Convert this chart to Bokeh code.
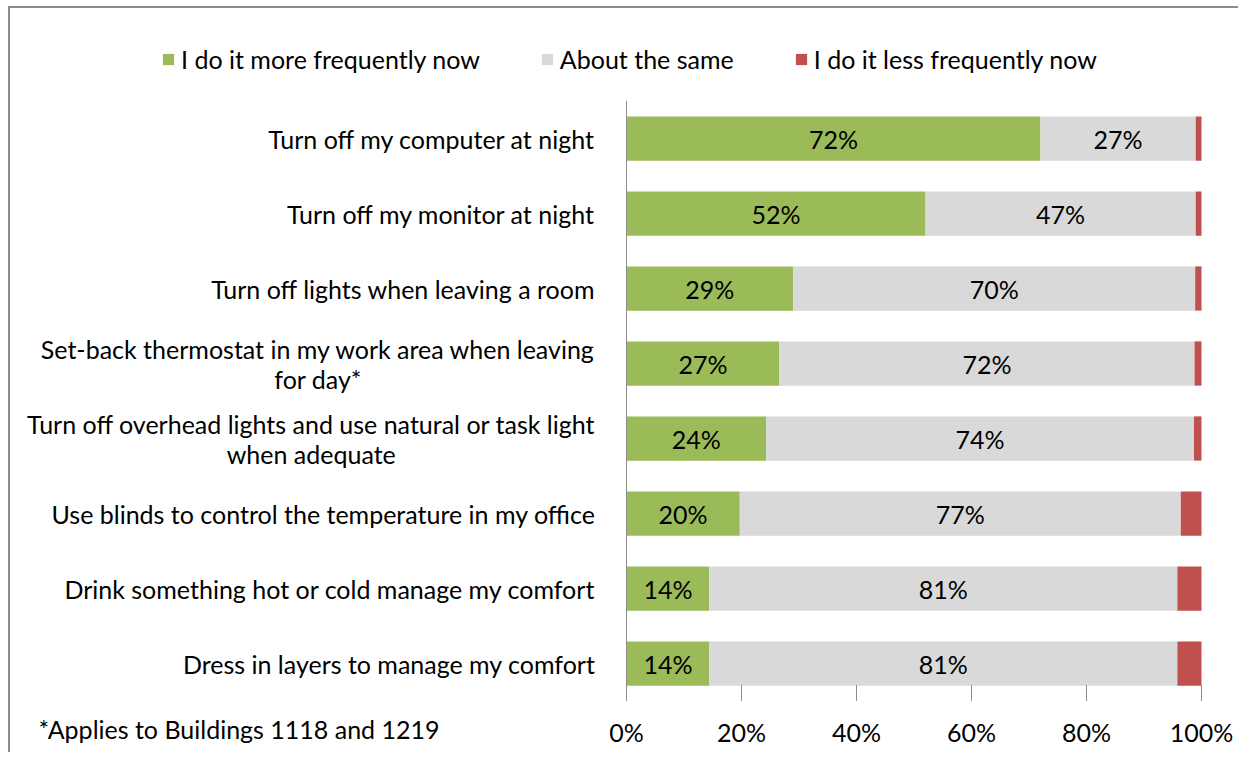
from bokeh.plotting import figure
from bokeh.models import ColumnDataSource, Range1d, Legend, LegendItem, Label
from bokeh.embed import file_html
from bokeh.resources import INLINE
from bokeh.core.properties import value

# ---- data ----
categories = [
    "Turn off my computer at night",
    "Turn off my monitor at night",
    "Turn off lights when leaving a room",
    "Set-back thermostat in my work area when leaving\nfor day*",
    "Turn off overhead lights and use natural or task light\nwhen adequate",
    "Use blinds to control the temperature in my office",
    "Drink something hot or cold manage my comfort",
    "Dress in layers to manage my comfort",
]
more = [72.0, 52.0, 29.0, 26.6, 24.3, 19.7, 14.4, 14.4]
same = [27.0, 47.0, 69.9, 72.2, 74.4, 76.7, 81.4, 81.4]
less = [1.0, 1.0, 1.1, 1.2, 1.3, 3.6, 4.2, 4.2]
series_names = ["I do it more frequently now", "About the same", "I do it less frequently now"]
x_ticks = [0, 20, 40, 60, 80, 100]
x_tick_labels = ["0%", "20%", "40%", "60%", "80%", "100%"]
footnote = "*Applies to Buildings 1118 and 1219"

# ---- layout / style ----
W, H = 1230, 746
ZERO_PX = 616          # canvas px of the 0% line
PX_PER_PCT = 5.75
FIRST_ROW_PX = 130     # canvas px of first row centre
ROW_PX = 75
FONT = "Lato"
FS = "25px"
TXT = "#000000"
AXIS_COL = "#8C8C8C"
colors = ["#9BBB59", "#D9D9D9", "#C0504D"]

n = len(categories)
ypos = list(range(n))

p = figure(width=W, height=H, output_backend="svg", toolbar_location=None,
           x_range=Range1d(-ZERO_PX / PX_PER_PCT, (W - ZERO_PX) / PX_PER_PCT),
           y_range=Range1d((H - FIRST_ROW_PX) / ROW_PX, -FIRST_ROW_PX / ROW_PX),
           x_axis_location=None, y_axis_location=None,
           min_border=0, min_border_left=0, min_border_right=0,
           min_border_top=0, min_border_bottom=0)
p.styles = {"margin-left": "8px", "margin-top": "6px",
            "border-left": "2px solid #8C8C8C", "border-top": "2px solid #8C8C8C"}
p.outline_line_color = None
p.grid.visible = False

src = ColumnDataSource(dict(y=ypos, more=more, same=same, less=less))
rs = p.hbar_stack(["more", "same", "less"], y="y", height=0.59, color=colors,
                  source=src, line_color=None)

# data labels
mid_more = [m / 2 for m in more]
mid_same = [m + s / 2 for m, s in zip(more, same)]
lab_src = ColumnDataSource(dict(
    x=mid_more + mid_same,
    y=ypos + ypos,
    t=["%d%%" % round(v) for v in more] + ["%d%%" % round(v) for v in same],
))
p.text(x="x", y="y", text="t", source=lab_src, text_align="center",
       text_baseline="middle", text_font=value(FONT), text_font_size=value(FS),
       text_color=TXT)

# category axis line and labels
p.segment(x0=[0], y0=[-0.5], x1=[0], y1=[n - 0.5], line_color=AXIS_COL, line_width=1)
cat_src = ColumnDataSource(dict(x=[0] * n, y=ypos, t=categories))
p.text(x="x", y="y", text="t", source=cat_src, x_offset=-31,
       anchor="center_right", text_align="center", text_baseline="middle",
       text_line_height=1.0,
       text_font=value(FONT), text_font_size=value(FS), text_color=TXT)

# value axis ticks and labels
TICK_LEN = 16
p.segment(x0=x_ticks, y0=[n - 0.5] * len(x_ticks), x1=x_ticks,
          y1=[n - 0.5 - TICK_LEN / ROW_PX] * len(x_ticks), line_color=AXIS_COL, line_width=1)
tick_src = ColumnDataSource(dict(x=x_ticks, y=[n - 0.5] * len(x_ticks), t=x_tick_labels))
p.text(x="x", y="y", text="t", source=tick_src, y_offset=31, text_align="center",
       text_baseline="middle", text_font=value(FONT), text_font_size=value(FS),
       text_color=TXT)

# legend
legend = Legend(items=[LegendItem(label=nm, renderers=[r]) for nm, r in zip(series_names, rs)],
                orientation="horizontal", location=(151, 680),
                border_line_color=None, background_fill_alpha=0,
                padding=0, margin=0, spacing=60, label_standoff=6,
                glyph_width=14, glyph_height=14,
                label_text_font=FONT, label_text_font_size=FS, label_text_color=TXT)
p.add_layout(legend)

# footnote
p.add_layout(Label(x=28, y=26, x_units="screen", y_units="screen", text=footnote,
                   text_font=FONT, text_font_size=FS, text_baseline="middle",
                   text_color=TXT))

open("out.html", "w").write(file_html(p, INLINE))
